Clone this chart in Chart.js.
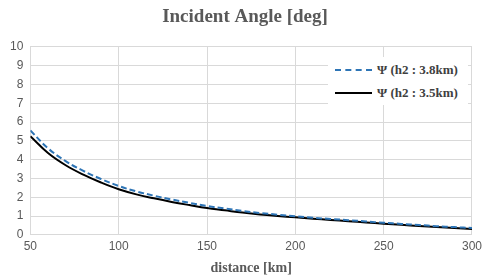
<!DOCTYPE html>
<html>
<head>
<meta charset="utf-8">
<script src="https://cdn.jsdelivr.net/npm/chart.js@4.4.0/dist/chart.umd.min.js"></script>
<style>
  body { margin: 0; background: #fff; }
  #wrap { position: relative; width: 487px; height: 277px; }
  #legendBox {
    position: absolute; left: 328px; top: 57px; width: 140px; height: 48px;
    background: #fff; font-family: "Liberation Serif", serif; font-weight: bold;
    font-size: 13px; color: #404040;
  }
  .row { position: absolute; left: 0; height: 16px; line-height: 16px; white-space: nowrap; }
  .sw { position: absolute; left: 7px; top: 7px; width: 37px; height: 0; }
  .lbl { position: absolute; left: 49px; top: 0; }
</style>
</head>
<body>
<div id="wrap">
  <canvas id="angleChart"></canvas>
  <div id="legendBox">
    <div class="row" style="top:5px"><div class="sw" style="border-top:2px dashed #2e75b6"></div><span class="lbl">Ψ (h2 : 3.8km)</span></div>
    <div class="row" style="top:28px"><div class="sw" style="border-top:2px solid #000"></div><span class="lbl">Ψ (h2 : 3.5km)</span></div>
  </div>
</div>
<script>
// distancia en km
var distance = [50, 60, 70, 80, 90, 100, 110, 120, 130, 140, 150, 160, 170, 180, 190, 200, 210, 220, 230, 240, 250, 260, 270, 280, 290, 300];
// angulo para h2 = 3.8 km
var psi38 = [5.55, 4.6, 3.92, 3.4, 2.97, 2.6, 2.31, 2.08, 1.88, 1.7, 1.53, 1.4, 1.27, 1.16, 1.07, 0.99, 0.91, 0.84, 0.78, 0.71, 0.64, 0.58, 0.52, 0.46, 0.41, 0.36];
// angulo para h2 = 3.5 km
var psi35 = [5.24, 4.35, 3.7, 3.2, 2.78, 2.42, 2.15, 1.94, 1.75, 1.58, 1.42, 1.3, 1.18, 1.08, 1.0, 0.93, 0.86, 0.79, 0.72, 0.66, 0.59, 0.53, 0.47, 0.42, 0.36, 0.31];
var seriesNames = ['Ψ (h2 : 3.8km)', 'Ψ (h2 : 3.5km)'];

function toPoints(values) {
  return distance.map(function(d, i) { return { x: d, y: values[i] }; });
}

var ctx = document.getElementById('angleChart').getContext('2d');
var angleChart = new Chart(ctx, {
  type: 'line',
  data: {
    datasets: [{
      label: seriesNames[0],
      data: toPoints(psi38),
      borderColor: '#2e75b6',
      borderWidth: 2,
      borderDash: [6, 3],
      pointRadius: 0,
      tension: 0.4
    }, {
      label: seriesNames[1],
      data: toPoints(psi35),
      borderColor: '#000000',
      borderWidth: 2,
      pointRadius: 0,
      tension: 0.4
    }]
  },
  options: {
    responsive: true,
    maintainAspectRatio: false,
    animation: false,
    layout: { padding: { left: 3, right: 0, top: 4, bottom: 0 } },
    plugins: {
      legend: { display: false },
      tooltip: { enabled: false },
      title: {
        display: true,
        text: 'Incident Angle [deg]',
        color: '#595959',
        font: { family: 'Liberation Serif', size: 19, weight: 'bold' },
        padding: { top: 2, bottom: 18 }
      }
    },
    scales: {
      x: {
        type: 'linear',
        min: 50,
        max: 300,
        ticks: { stepSize: 50, color: '#595959', font: { family: 'Liberation Sans', size: 12 }, padding: 5 },
        grid: { color: '#d9d9d9', drawTicks: false },
        border: { color: '#d9d9d9' },
        title: {
          display: true,
          text: 'distance [km]',
          color: '#595959',
          font: { family: 'Liberation Serif', size: 14, weight: 'bold' },
          padding: { top: 1, bottom: 0 }
        }
      },
      y: {
        min: 0,
        max: 10,
        ticks: { stepSize: 1, color: '#595959', font: { family: 'Liberation Sans', size: 12 }, padding: 7 },
        grid: { color: '#d9d9d9', drawTicks: false },
        border: { color: '#d9d9d9' }
      }
    }
  }
});
</script>
</body>
</html>
